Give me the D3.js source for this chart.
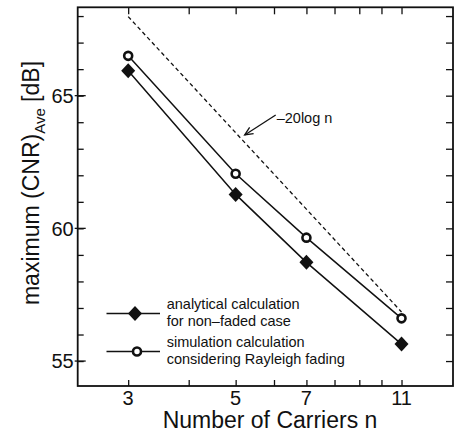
<!DOCTYPE html>
<html><head><meta charset="utf-8">
<script src="https://cdn.jsdelivr.net/npm/d3@7"></script>
<style>body{margin:0;background:#fff}svg{display:block}text{font-family:"Liberation Sans",Arial,Helvetica,sans-serif;fill:#111}</style>
</head><body>
<script>
const carriers = [3, 5, 7, 11];
const analytical = [65.94, 61.28, 58.72, 55.64];
const simulation = [66.50, 62.06, 59.65, 56.61];
const refN = [3, 11];
const refLine = [67.98, 56.85];
const xTickLabels = [3, 5, 7, 11];
const xMinorTicks = [3, 4, 5, 6, 7, 8, 9, 10, 11];
const yTickLabels = [55, 60, 65];
const yMinorTicks = [55, 56, 57, 58, 59, 60, 61, 62, 63, 64, 65, 66, 67, 68];
const legendLabels = [["analytical calculation", "for non\u2013faded case"], ["simulation calculation", "considering Rayleigh fading"]];
const annotation = {text: "\u201320log n", tipN: 5.22, tipV: 63.52};

const W = 459, H = 438;
const L = 77.7, R = 453, T = 7.3, B = 386;
const x = d3.scaleLog().domain([2.36, 14.05]).range([L, R]);
const y = d3.scaleLinear().domain([54.06, 68.33]).range([B, T]);

const svg = d3.select("body").append("svg").attr("width", W).attr("height", H);

svg.append("rect").attr("x", L).attr("y", T).attr("width", R - L).attr("height", B - T)
  .attr("fill", "none").attr("stroke", "#111").attr("stroke-width", 1.8);

const gL = svg.append("g").attr("transform", `translate(${L},0)`)
  .call(d3.axisRight(y).tickValues(yMinorTicks).tickSize(6).tickFormat(""));
const gR = svg.append("g").attr("transform", `translate(${R},0)`)
  .call(d3.axisLeft(y).tickValues(yMinorTicks).tickSize(7).tickFormat(""));
const gB = svg.append("g").attr("transform", `translate(0,${B})`)
  .call(d3.axisTop(x).tickValues(xMinorTicks).tickSize(6).tickFormat(""));
const gT = svg.append("g").attr("transform", `translate(0,${T})`)
  .call(d3.axisBottom(x).tickValues(xMinorTicks).tickSize(7).tickFormat(""));
[gL, gR, gB, gT].forEach(g => {
  g.select(".domain").remove();
  g.selectAll("line").attr("stroke", "#111").attr("stroke-width", 1.3);
});
svg.append("g").selectAll("line").data(yTickLabels).join("line")
  .attr("x1", L - 3).attr("x2", L + 8).attr("y1", d => y(d)).attr("y2", d => y(d))
  .attr("stroke", "#111").attr("stroke-width", 1.3);

svg.append("g").selectAll("text").data(yTickLabels).join("text")
  .attr("x", L - 4).attr("y", d => y(d)).attr("dy", "0.36em")
  .attr("text-anchor", "end").attr("font-size", 20).text(d => d);
svg.append("g").selectAll("text").data(xTickLabels).join("text")
  .attr("x", d => x(d)).attr("y", B + 19)
  .attr("text-anchor", "middle").attr("font-size", 20).text(d => d);

svg.append("text").attr("x", 270).attr("y", 428)
  .attr("text-anchor", "middle").attr("font-size", 23).text("Number of Carriers n");
const yt = svg.append("text").attr("transform", "translate(39,183) rotate(-90)")
  .attr("text-anchor", "middle").attr("font-size", 23);
yt.append("tspan").text("maximum (CNR)");
yt.append("tspan").attr("font-size", 15).attr("dy", 6).text("Ave");
yt.append("tspan").attr("dy", -6).text(" [dB]");

svg.append("path").datum(refN.map((n, i) => [n, refLine[i]]))
  .attr("fill", "none").attr("stroke", "#111").attr("stroke-width", 1.3)
  .attr("stroke-dasharray", "4,3")
  .attr("d", d3.line().x(d => x(d[0])).y(d => y(d[1])));

const line = d3.line().x(d => x(d[0])).y(d => y(d[1]));
[analytical, simulation].forEach(vals => {
  svg.append("path").datum(carriers.map((n, i) => [n, vals[i]]))
    .attr("fill", "none").attr("stroke", "#111").attr("stroke-width", 1.5).attr("d", line);
});
const diamondPath = "M0,-7.5L7,0L0,7.5L-7,0Z";
svg.append("g").selectAll("path").data(carriers.map((n, i) => [n, analytical[i]])).join("path")
  .attr("transform", d => `translate(${x(d[0])},${y(d[1])})`)
  .attr("d", diamondPath).attr("fill", "#111");
svg.append("g").selectAll("circle").data(carriers.map((n, i) => [n, simulation[i]])).join("circle")
  .attr("cx", d => x(d[0])).attr("cy", d => y(d[1])).attr("r", 4)
  .attr("fill", "#fff").attr("stroke", "#111").attr("stroke-width", 2.6);

const tx = x(annotation.tipN), ty = y(annotation.tipV);
const ax0 = tx + 31, ay0 = ty - 20;
svg.append("line").attr("x1", ax0).attr("y1", ay0).attr("x2", tx).attr("y2", ty)
  .attr("stroke", "#111").attr("stroke-width", 1.3);
const ang = Math.atan2(ty - ay0, tx - ax0);
const hl = 9, ha = 0.42;
svg.append("path")
  .attr("d", `M${tx - hl * Math.cos(ang - ha)},${ty - hl * Math.sin(ang - ha)}L${tx},${ty}L${tx - hl * Math.cos(ang + ha)},${ty - hl * Math.sin(ang + ha)}`)
  .attr("fill", "none").attr("stroke", "#111").attr("stroke-width", 1.3);
svg.append("text").attr("x", ax0 + 1).attr("y", ay0 + 8).attr("font-size", 14.5).text(annotation.text);

const lg = svg.append("g");
const legY = [313.5, 351.5];
const lineX0 = 106.5, lineX1 = 160, mX = 135;
legY.forEach((ly, i) => {
  lg.append("line").attr("x1", lineX0).attr("x2", lineX1).attr("y1", ly).attr("y2", ly)
    .attr("stroke", "#111").attr("stroke-width", 1.5);
  if (i === 0) {
    lg.append("path").attr("transform", `translate(${mX},${ly})`).attr("d", diamondPath).attr("fill", "#111");
  } else {
    lg.append("circle").attr("cx", mX + 2).attr("cy", ly).attr("r", 4)
      .attr("fill", "#fff").attr("stroke", "#111").attr("stroke-width", 2.6);
  }
  legendLabels[i].forEach((t, j) => {
    lg.append("text").attr("x", 166.7).attr("y", ly - 4.5 + j * 17).attr("font-size", 14.5).text(t);
  });
});
</script>
</body></html>
